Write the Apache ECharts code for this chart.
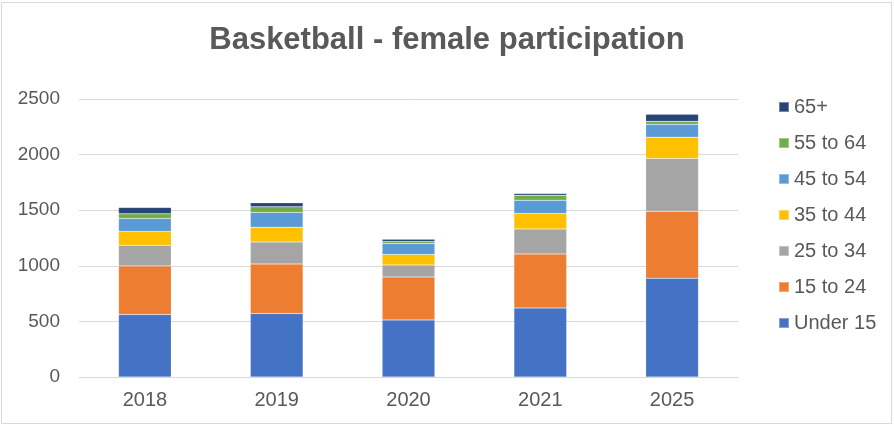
<!DOCTYPE html>
<html lang="en">
<head>
<meta charset="UTF-8">
<title>Basketball - female participation</title>
<script src="https://cdn.jsdelivr.net/npm/echarts@6/dist/echarts.min.js"></script>
<style>
  html, body { margin: 0; padding: 0; background: #fff; }
  #frame { position: absolute; left: 1px; top: 2px; width: 891px; height: 422px; border: 1px solid #d9d9d9; box-sizing: border-box; }
  #chart { width: 894px; height: 426px; }
</style>
</head>
<body>
<div id="frame"></div>
<div id="chart"></div>
<script>
// data
const years = ['2018', '2019', '2020', '2021', '2025']
const ageGroups = ['Under 15', '15 to 24', '25 to 34', '35 to 44', '45 to 54', '55 to 64', '65+']
const under15 = [562, 571, 513, 621, 888]
const age15to24 = [437, 446, 387, 486, 603]
const age25to34 = [186, 198, 108, 225, 475]
const age35to44 = [124, 132, 94, 138, 191]
const age45to54 = [117, 133, 98, 120, 115]
const age55to64 = [41, 50, 18, 45, 27]
const age65plus = [58, 36, 21, 15, 63]
const yTicks = [0, 500, 1000, 1500, 2000, 2500]

const groupValues = [under15, age15to24, age25to34, age35to44, age45to54, age55to64, age65plus]
const colors = ['#4472c4', '#ed7d31', '#a5a5a5', '#ffc000', '#5b9bd5', '#70ad47', '#264478']
const textColor = '#595959'
const fontFamily = '"Liberation Sans", Arial, sans-serif'

const series = ageGroups.map((name, i) => ({
  name: name,
  type: 'bar',
  stack: 'total',
  barWidth: '40%',
  data: groupValues[i],
  itemStyle: { color: colors[i], borderColor: 'rgba(255,255,255,0.35)', borderWidth: 0.5 }
}))

const option = {
  animation: false,
  title: {
    text: 'Basketball - female participation',
    left: 'center',
    top: 20,
    textStyle: { color: textColor, fontSize: 31, fontWeight: 'bold', fontFamily: fontFamily }
  },
  legend: {
    orient: 'vertical',
    left: 773,
    top: 92,
    itemWidth: 10,
    itemHeight: 10,
    itemGap: 16,
    icon: 'rect',
    data: ageGroups.slice().reverse(),
    textStyle: { color: textColor, fontSize: 20, fontFamily: fontFamily }
  },
  grid: { left: 79, right: 156, top: 99, bottom: 49 },
  xAxis: {
    type: 'category',
    data: years,
    axisLine: { lineStyle: { color: '#d9d9d9', width: 1 } },
    axisTick: { show: false },
    axisLabel: { color: textColor, fontSize: 20, fontFamily: fontFamily, margin: 13 }
  },
  yAxis: {
    type: 'value',
    min: yTicks[0],
    max: yTicks[yTicks.length - 1],
    interval: 500,
    axisLine: { show: false },
    axisTick: { show: false },
    splitLine: { lineStyle: { color: '#d9d9d9', width: 1 } },
    axisLabel: { color: textColor, fontSize: 19, fontFamily: fontFamily, margin: 19, formatter: v => String(v) }
  },
  series: series
}

const chart = echarts.init(document.getElementById('chart'))
chart.setOption(option)
</script>
</body>
</html>
